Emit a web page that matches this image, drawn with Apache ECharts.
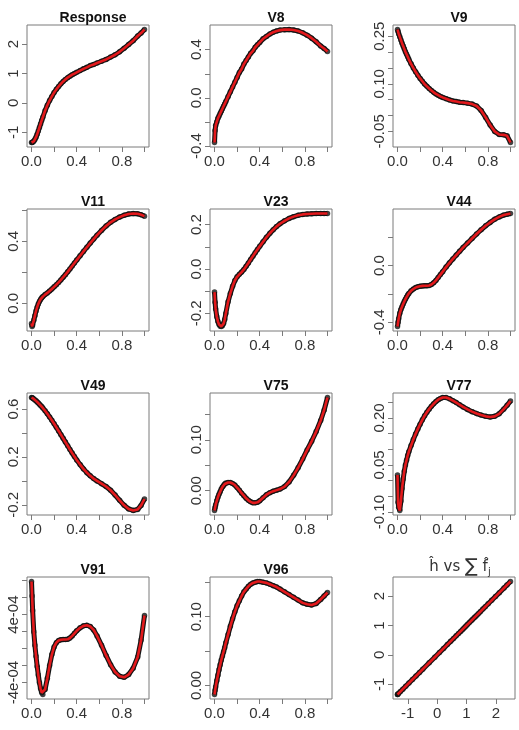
<!DOCTYPE html>
<html>
<head>
<meta charset="utf-8">
<title>Component fits</title>
<script src="https://cdn.jsdelivr.net/npm/echarts@6/dist/echarts.min.js"></script>
<style>
  html, body { margin: 0; padding: 0; background: #fff; }
  #chart { width: 519px; height: 730px; }
</style>
</head>
<body>
<div id="chart"></div>
<script>
// covariate grid (scaled 0..1), denser near 0 like the original sample
const xGrid = [0, 0.005, 0.01, 0.02, 0.03, 0.04, 0.05, 0.06, 0.07, 0.08, 0.09, 0.10,
  0.12, 0.14, 0.16, 0.18, 0.20, 0.22, 0.24, 0.26, 0.28, 0.30, 0.32, 0.34, 0.36, 0.38,
  0.40, 0.43, 0.46, 0.49, 0.52, 0.55, 0.58, 0.62, 0.66, 0.70, 0.74, 0.78, 0.82, 0.86,
  0.90, 0.94, 0.97, 1.00];

const response = [-1.35, -1.35, -1.34, -1.31, -1.25, -1.17, -1.07, -0.96, -0.84, -0.72, -0.60, -0.49,
  -0.27, -0.08, 0.08, 0.22, 0.35, 0.46, 0.56, 0.65, 0.73, 0.80, 0.86, 0.91, 0.96, 1.00,
  1.04, 1.10, 1.16, 1.21, 1.27, 1.31, 1.36, 1.42, 1.48, 1.56, 1.64, 1.74, 1.86, 1.99,
  2.12, 2.28, 2.38, 2.50];
const v8 = [-0.37, -0.27, -0.23, -0.20, -0.17, -0.15, -0.13, -0.11, -0.09, -0.07, -0.05, -0.03,
  0.01, 0.05, 0.09, 0.13, 0.17, 0.21, 0.24, 0.28, 0.31, 0.34, 0.37, 0.39, 0.42, 0.44,
  0.46, 0.49, 0.51, 0.53, 0.545, 0.555, 0.562, 0.566, 0.567, 0.563, 0.555, 0.54, 0.52, 0.495,
  0.465, 0.43, 0.41, 0.385];
const v9 = [0.271, 0.265, 0.258, 0.248, 0.238, 0.228, 0.219, 0.210, 0.201, 0.193, 0.185, 0.177,
  0.163, 0.150, 0.138, 0.127, 0.117, 0.108, 0.099, 0.092, 0.085, 0.079, 0.073, 0.068, 0.064, 0.060,
  0.057, 0.053, 0.049, 0.046, 0.044, 0.042, 0.041, 0.039, 0.036, 0.030, 0.016, -0.006, -0.030, -0.050,
  -0.060, -0.061, -0.064, -0.085];
const v11 = [-0.13, -0.15, -0.14, -0.11, -0.08, -0.05, -0.025, -0.005, 0.012, 0.025, 0.035, 0.043,
  0.056, 0.067, 0.079, 0.092, 0.106, 0.12, 0.135, 0.151, 0.168, 0.185, 0.203, 0.222, 0.241, 0.26,
  0.279, 0.307, 0.335, 0.362, 0.389, 0.415, 0.44, 0.471, 0.499, 0.523, 0.542, 0.557, 0.569, 0.577,
  0.58, 0.578, 0.572, 0.563];
const v23 = [-0.104, -0.150, -0.180, -0.215, -0.236, -0.250, -0.258, -0.259, -0.256, -0.246, -0.228, -0.200,
  -0.148, -0.110, -0.078, -0.052, -0.035, -0.024, -0.014, -0.002, 0.012, 0.027, 0.043, 0.058, 0.073, 0.088,
  0.102, 0.123, 0.143, 0.161, 0.177, 0.192, 0.204, 0.217, 0.228, 0.236, 0.242, 0.246, 0.248, 0.249,
  0.250, 0.250, 0.250, 0.250];
const v44 = [-0.430, -0.400, -0.375, -0.337, -0.310, -0.290, -0.271, -0.253, -0.237, -0.222, -0.208, -0.196,
  -0.178, -0.165, -0.155, -0.149, -0.145, -0.143, -0.142, -0.142, -0.140, -0.133, -0.121, -0.104, -0.084, -0.063,
  -0.042, -0.010, 0.020, 0.048, 0.075, 0.102, 0.128, 0.160, 0.192, 0.224, 0.254, 0.282, 0.306, 0.328,
  0.345, 0.358, 0.364, 0.369];
const v49 = [0.696, 0.694, 0.691, 0.684, 0.676, 0.668, 0.659, 0.650, 0.640, 0.630, 0.620, 0.609,
  0.585, 0.560, 0.534, 0.506, 0.477, 0.447, 0.417, 0.386, 0.355, 0.324, 0.293, 0.262, 0.232, 0.203,
  0.175, 0.136, 0.100, 0.069, 0.042, 0.019, 0.000, -0.023, -0.047, -0.078, -0.118, -0.162, -0.204, -0.234,
  -0.247, -0.238, -0.205, -0.151];
const v75 = [-0.039, -0.033, -0.028, -0.020, -0.013, -0.007, -0.002, 0.003, 0.007, 0.010, 0.013, 0.015,
  0.016, 0.016, 0.014, 0.011, 0.006, 0.001, -0.005, -0.010, -0.015, -0.019, -0.022, -0.024, -0.024, -0.023,
  -0.020, -0.014, -0.008, -0.004, -0.001, 0.001, 0.003, 0.008, 0.017, 0.030, 0.045, 0.062, 0.080, 0.097,
  0.116, 0.138, 0.158, 0.183];
const v77 = [0.018, -0.069, -0.085, -0.095, -0.065, -0.025, 0.005, 0.030, 0.050, 0.065, 0.080, 0.092,
  0.112, 0.131, 0.149, 0.165, 0.180, 0.194, 0.207, 0.218, 0.228, 0.237, 0.245, 0.252, 0.258, 0.262,
  0.265, 0.265, 0.261, 0.255, 0.249, 0.242, 0.235, 0.227, 0.220, 0.214, 0.209, 0.205, 0.203, 0.205,
  0.213, 0.228, 0.240, 0.254];
const v91 = [7.9e-4, 6.2e-4, 4.5e-4, 2.0e-4, 0.4e-4, -0.9e-4, -2.1e-4, -3.1e-4, -4.0e-4, -4.7e-4, -5.2e-4, -5.4e-4,
  -4.8e-4, -3.5e-4, -2.0e-4, -0.7e-4, 0.2e-4, 0.7e-4, 0.95e-4, 1.05e-4, 1.08e-4, 1.08e-4, 1.1e-4, 1.25e-4, 1.5e-4, 1.8e-4,
  2.1e-4, 2.45e-4, 2.68e-4, 2.75e-4, 2.6e-4, 2.2e-4, 1.5e-4, 0.4e-4, -0.8e-4, -1.9e-4, -2.75e-4, -3.25e-4, -3.38e-4, -3.05e-4,
  -2.3e-4, -1.0e-4, 1.0e-4, 3.9e-4];
const v96 = [-0.013, -0.007, -0.002, 0.007, 0.015, 0.023, 0.030, 0.037, 0.043, 0.049, 0.055, 0.062,
  0.074, 0.086, 0.097, 0.107, 0.116, 0.123, 0.130, 0.136, 0.140, 0.144, 0.147, 0.149, 0.150, 0.151,
  0.151, 0.150, 0.149, 0.147, 0.145, 0.143, 0.140, 0.136, 0.132, 0.128, 0.124, 0.120, 0.118, 0.117,
  0.119, 0.125, 0.130, 0.135];

// last panel: fitted h vs sum of component fits
const hatH = [-1.35, -1.35, -1.34, -1.31, -1.25, -1.17, -1.07, -0.96, -0.84, -0.72, -0.60, -0.49,
  -0.27, -0.08, 0.08, 0.22, 0.35, 0.46, 0.56, 0.65, 0.73, 0.80, 0.86, 0.91, 0.96, 1.00,
  1.04, 1.10, 1.16, 1.21, 1.27, 1.31, 1.36, 1.42, 1.48, 1.56, 1.64, 1.74, 1.86, 1.99,
  2.12, 2.28, 2.38, 2.50];
const sumF = [-1.35, -1.35, -1.34, -1.31, -1.25, -1.17, -1.07, -0.96, -0.84, -0.72, -0.60, -0.49,
  -0.27, -0.08, 0.08, 0.22, 0.35, 0.46, 0.56, 0.65, 0.73, 0.80, 0.86, 0.91, 0.96, 1.00,
  1.04, 1.10, 1.16, 1.21, 1.27, 1.31, 1.36, 1.42, 1.48, 1.56, 1.64, 1.74, 1.86, 1.99,
  2.12, 2.28, 2.38, 2.50];

const titles = ['Response', 'V8', 'V9', 'V11', 'V23', 'V44', 'V49', 'V75', 'V77', 'V91', 'V96'];
const curves = [response, v8, v9, v11, v23, v44, v49, v75, v77, v91, v96];

// tick marks and the labels R kept (others dropped for overlap)
const xTicks = [0, 0.2, 0.4, 0.6, 0.8, 1.0];
const xLabels = [0, 0.4, 0.8];
const yTicks = [
  [-1, 0, 1, 2],
  [-0.4, -0.2, 0, 0.2, 0.4],
  [-0.05, 0, 0.05, 0.1, 0.15, 0.2, 0.25],
  [0, 0.2, 0.4, 0.6],
  [-0.2, -0.1, 0, 0.1, 0.2],
  [-0.4, -0.2, 0, 0.2],
  [-0.2, 0, 0.2, 0.4, 0.6],
  [0, 0.05, 0.1, 0.15],
  [-0.1, -0.05, 0, 0.05, 0.1, 0.15, 0.2, 0.25],
  [-4e-4, -2e-4, 0, 2e-4, 4e-4, 6e-4, 8e-4],
  [0, 0.05, 0.1, 0.15]
];
const yLabels = [
  [-1, 0, 1, 2],
  [-0.4, 0, 0.4],
  [-0.05, 0.1, 0.25],
  [0, 0.4],
  [-0.2, 0, 0.2],
  [-0.4, 0],
  [-0.2, 0.2, 0.6],
  [0, 0.1],
  [-0.1, 0.05, 0.2],
  [-4e-4, 4e-4],
  [0, 0.1]
];
const yDigits = [0, 1, 2, 1, 1, 1, 1, 2, 2, 'e', 2];
const fitTicks = [-1, 0, 1, 2];

// layout
const colLeft = [27, 210, 393];
const rowTop = [25, 209, 393, 577];
const box = 122;

const FONT = 'Liberation Sans, Arial, sans-serif';
const RED = '#e3191c';
const DOT = '#141414';
const FRAME = '#7a7a7a';

function rExp(v) {
  if (v === 0) return '0e+00';
  const e = Math.floor(Math.log10(Math.abs(v)) + 1e-9);
  const m = Math.round(v / Math.pow(10, e));
  const ae = Math.abs(e);
  return m + 'e' + (e < 0 ? '-' : '+') + (ae < 10 ? '0' : '') + ae;
}
function fmt(digits) {
  return v => digits === 'e' ? rExp(v) : Number(v).toFixed(digits);
}
const padMin = v => v.min - 0.04 * (v.max - v.min);
const padMax = v => v.max + 0.04 * (v.max - v.min);

const grids = [], xAxes = [], yAxes = [], series = [], heads = [];

function axisBase(gi, ticks, labels, formatter) {
  return {
    type: 'value', gridIndex: gi, min: padMin, max: padMax, scale: true,
    axisLine: { show: false, onZero: false },
    splitLine: { show: false },
    axisTick: { show: true, length: 5, inside: false, customValues: ticks,
      lineStyle: { color: FRAME, width: 1 } },
    axisLabel: { customValues: labels, formatter: formatter, color: '#333',
      fontFamily: FONT, fontSize: 15 }
  };
}

for (let i = 0; i < 12; i++) {
  const r = Math.floor(i / 3), c = i % 3;
  grids.push({ left: colLeft[c], top: rowTop[r], width: box, height: box, show: true,
    borderColor: FRAME, borderWidth: 1, backgroundColor: 'transparent' });

  let pts, xa, ya;
  if (i < 11) {
    pts = xGrid.map((x, k) => [x, curves[i][k]]);
    xa = axisBase(i, xTicks, xLabels, fmt(1));
    ya = axisBase(i, yTicks[i], yLabels[i], fmt(yDigits[i]));
    heads.push({ text: titles[i], left: colLeft[c] + box / 2, top: rowTop[r] - 19, textAlign: 'center',
      textStyle: { fontFamily: FONT, fontSize: 14, fontWeight: 'bold', color: '#111' } });
  } else {
    pts = hatH.map((h, k) => [h, sumF[k]]);
    xa = axisBase(i, fitTicks, fitTicks, fmt(0));
    ya = axisBase(i, fitTicks, fitTicks, fmt(0));
    heads.push({ text: '{n|\u0125 vs }{s|\u2211}{n| f\u0302}{j|j}', left: colLeft[c] + box / 2 + 1,
      top: rowTop[r] - 24, textAlign: 'center',
      textStyle: { fontWeight: 'normal', rich: {
        n: { fontFamily: 'DejaVu Sans', fontSize: 15, fontWeight: 'normal', color: '#333' },
        s: { fontFamily: 'DejaVu Sans', fontSize: 19, fontWeight: 'normal', color: '#333' },
        j: { fontFamily: 'DejaVu Sans', fontSize: 10, fontWeight: 'normal', color: '#333',
          verticalAlign: 'bottom', padding: [9, 0, 0, 0] }
      } } });
  }
  xa.axisLabel.margin = 7;
  ya.axisLabel.margin = 6;
  ya.axisLabel.rotate = 90;
  xAxes.push(xa);
  yAxes.push(ya);

  // dense black points read as a dark outline, red fitted line on top
  series.push({ type: 'line', xAxisIndex: i, yAxisIndex: i, data: pts, showSymbol: false,
    lineStyle: { color: DOT, width: 5 }, z: 1, silent: true });
  series.push({ type: 'scatter', xAxisIndex: i, yAxisIndex: i, data: pts,
    symbol: 'circle', symbolSize: 5.5, itemStyle: { color: DOT }, z: 2, silent: true });
  series.push({ type: 'line', xAxisIndex: i, yAxisIndex: i, data: pts, showSymbol: false,
    lineStyle: { color: RED, width: 2.6 }, z: 3, silent: true });
}

const chart = echarts.init(document.getElementById('chart'), null, { renderer: 'canvas' });
chart.setOption({
  animation: false,
  backgroundColor: '#fff',
  title: heads,
  grid: grids,
  xAxis: xAxes,
  yAxis: yAxes,
  series: series
});
</script>
</body>
</html>
